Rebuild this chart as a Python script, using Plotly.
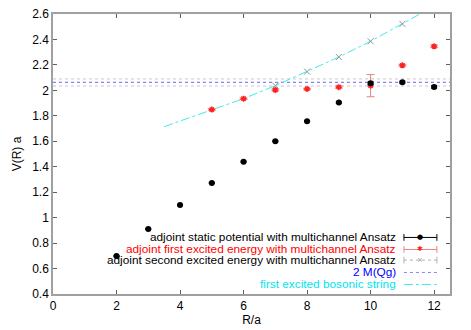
import plotly.graph_objects as go

# ---- data ----
R_static = [2, 3, 4, 5, 6, 7, 8, 9, 10, 11, 12]
V_static = [0.698, 0.91, 1.10, 1.273, 1.44, 1.60, 1.758, 1.904, 2.056, 2.064, 2.027]
E_static = [0.004, 0.004, 0.004, 0.004, 0.004, 0.004, 0.005, 0.006, 0.01, 0.008, 0.01]

R_first = [5, 6, 7, 8, 9, 10, 11, 12]
V_first = [1.849, 1.935, 2.003, 2.011, 2.025, 2.037, 2.197, 2.346]
E_first = [0.006, 0.006, 0.008, 0.006, 0.008, 0.087, 0.008, 0.01]

R_second = [7, 8, 9, 10, 11]
V_second = [2.037, 2.147, 2.262, 2.386, 2.522]

R_string = [3.5, 4, 5, 6, 7, 8, 9, 10, 11, 11.55]
V_string = [1.715, 1.76, 1.849, 1.935, 2.037, 2.147, 2.262, 2.386, 2.522, 2.6]

MQg2 = 2.062
MQg2_err = 0.028
x_span = [0, 12.5]

x_ticks = [0, 2, 4, 6, 8, 10, 12]
y_ticks = [0.4, 0.6, 0.8, 1.0, 1.2, 1.4, 1.6, 1.8, 2.0, 2.2, 2.4, 2.6]

legend_labels = [
    "adjoint static potential with multichannel Ansatz",
    "adjoint first excited energy with multichannel Ansatz",
    "adjoint second excited energy with multichannel Ansatz",
    "2 M(Qg)",
    "first excited bosonic string",
]
legend_colors = ["black", "#ff0000", "black", "#0000ff", "#00e5ee"]

FONT = "Liberation Sans, Arial, sans-serif"

fig = go.Figure()

# error band around 2 M(Qg)
for v in [MQg2 + MQg2_err, MQg2 - MQg2_err]:
    fig.add_trace(go.Scatter(x=x_span, y=[v, v], mode="lines",
                             line=dict(color="#c8c8c8", width=1, dash="dot"),
                             showlegend=False, hoverinfo="skip"))
fig.add_trace(go.Scatter(x=x_span, y=[MQg2, MQg2], mode="lines",
                         line=dict(color="#8080ff", width=1.2, dash="dot"),
                         showlegend=False))

# bosonic string
fig.add_trace(go.Scatter(x=R_string, y=V_string, mode="lines",
                         line=dict(color="#40ecec", width=1, dash="dashdot"),
                         showlegend=False))

# second excited
fig.add_trace(go.Scatter(x=R_second, y=V_second, mode="markers",
                         marker=dict(symbol="x-thin-open", size=6, color="#8a9a9a",
                                     line=dict(color="#8a9a9a", width=1)),
                         showlegend=False))

# first excited
fig.add_trace(go.Scatter(x=R_first, y=V_first, mode="markers",
                         error_y=dict(type="data", array=E_first, color="#f08080",
                                      thickness=1, width=4),
                         marker=dict(symbol="asterisk-open", size=5, color="#ff2020",
                                     line=dict(color="#ff2020", width=1.5)),
                         showlegend=False))

# static potential
fig.add_trace(go.Scatter(x=R_static, y=V_static, mode="markers",
                         error_y=dict(type="data", array=E_static, color="black",
                                      thickness=1, width=3),
                         marker=dict(symbol="circle", size=6, color="black"),
                         showlegend=False))

# ---- manual gnuplot-style legend ----
row_y = [0.202, 0.159, 0.121, 0.077, 0.034]
text_x = 0.866
lx0, lx1 = 0.884, 0.967
lxc = (lx0 + lx1) / 2
shapes = []
annotations = []
styles = [
    dict(color="black", dash="solid", caps=True, marker="●", mcolor="black"),
    dict(color="#f08080", dash="solid", caps=True, marker="✱", mcolor="#ff2020"),
    dict(color="#b0b0b0", dash="dot", caps=True, marker="×", mcolor="#8a9a9a"),
    dict(color="#8080ff", dash="dot", caps=False, marker=None, mcolor=None),
    dict(color="#40ecec", dash="dashdot", caps=False, marker=None, mcolor=None),
]
for lab, col, y, st in zip(legend_labels, legend_colors, row_y, styles):
    annotations.append(dict(x=text_x, y=y, xref="paper", yref="paper",
                            text=lab, showarrow=False, xanchor="right",
                            yanchor="middle", borderpad=0,
                            font=dict(family=FONT, size=11.8, color=col)))
    shapes.append(dict(type="line", xref="paper", yref="paper",
                       x0=lx0, x1=lx1, y0=y, y1=y,
                       line=dict(color=st["color"], width=1, dash=st["dash"])))
    if st["caps"]:
        for xx in (lx0, lx1):
            shapes.append(dict(type="line", xref="paper", yref="paper",
                               x0=xx, x1=xx, y0=y - 0.012, y1=y + 0.012,
                               line=dict(color=st["color"], width=1)))
    if st["marker"]:
        annotations.append(dict(x=lxc, y=y, xref="paper", yref="paper",
                                text=st["marker"], showarrow=False,
                                xanchor="center", yanchor="middle",
                                font=dict(family="DejaVu Sans", size=7,
                                          color=st["mcolor"])))

axis_common = dict(
    showgrid=False, zeroline=False, showline=True, mirror="allticks",
    linecolor="#a0a0a0", linewidth=1.5, ticks="inside", ticklen=4,
    tickcolor="#606060", tickfont=dict(family=FONT, size=12, color="black"),
    automargin=False, ticklabeloverflow="allow",
)

# page body has an 8px default margin, so the figure is sized to fit the window
fig.update_layout(
    width=463, height=322,
    margin=dict(l=45, r=21, t=6, b=36),
    paper_bgcolor="white", plot_bgcolor="white",
    font=dict(family=FONT, size=12, color="black"),
    shapes=shapes, annotations=annotations,
    xaxis=dict(range=[0, 12.5], tickvals=x_ticks,
               title=dict(text="R/a", font=dict(family=FONT, size=12), standoff=2),
               **axis_common),
    yaxis=dict(range=[0.4, 2.6], tickvals=y_ticks,
               ticktext=[("%g" % v) for v in y_ticks],
               title=dict(text="V(R) a", font=dict(family=FONT, size=12), standoff=8),
               **axis_common),
)

fig.write_html("out.html")
